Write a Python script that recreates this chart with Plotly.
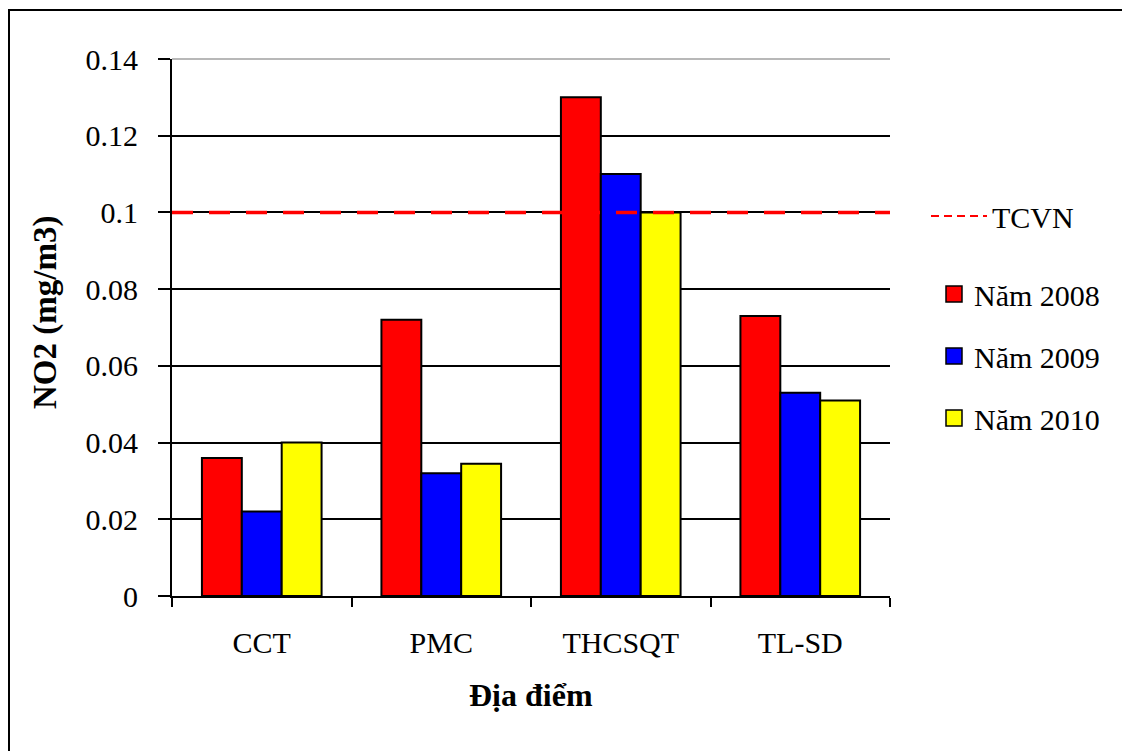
import plotly.graph_objects as go

# NO2 concentrations (mg/m3) by site and year
sites = ["CCT", "PMC", "THCSQT", "TL-SD"]
no2_2008 = [0.036, 0.072, 0.130, 0.073]
no2_2009 = [0.022, 0.032, 0.110, 0.053]
no2_2010 = [0.040, 0.0345, 0.100, 0.051]
tcvn_limit = 0.1

y_ticks = [0, 0.02, 0.04, 0.06, 0.08, 0.1, 0.12, 0.14]
y_tick_text = ["0", "0.02", "0.04", "0.06", "0.08", "0.1", "0.12", "0.14"]

FONT = "Times New Roman, Liberation Serif, serif"
W, H = 1122, 751
L, R, T, B = 172, 232, 59, 155
pw, ph = W - L - R, H - T - B


def px_x(x):
    return (x - L) / pw


def px_y(y):
    return (H - B - y) / ph


fig = go.Figure()

series = [
    ("Năm 2008", no2_2008, "#FF0000"),
    ("Năm 2009", no2_2009, "#0000FF"),
    ("Năm 2010", no2_2010, "#FFFF00"),
]
for name, vals, color in series:
    fig.add_trace(go.Bar(
        x=sites, y=vals, name=name,
        marker=dict(color=color, line=dict(color="black", width=2)),
        showlegend=False,
    ))
    # legend entry drawn as a square marker
    fig.add_trace(go.Scatter(
        x=[None], y=[None], mode="markers", name=name,
        marker=dict(symbol="square", size=16, color=color,
                    line=dict(color="black", width=1.5)),
        legend="legend", legendgroup=name,
    ))

# standard limit line across the full plot width
fig.add_trace(go.Scatter(
    x=[0, 1], y=[tcvn_limit, tcvn_limit], xaxis="x2", mode="lines",
    line=dict(color="#FF0000", width=3.5, dash="21px,16px"),
    showlegend=False, hoverinfo="skip",
))
fig.add_trace(go.Scatter(
    x=[None], y=[None], xaxis="x2", mode="lines", name="TCVN",
    line=dict(color="#FF0000", width=2, dash="8px,5px"),
    legend="legend2",
))

fig.update_layout(
    width=W, height=H,
    margin=dict(l=L, r=R, t=T, b=B, pad=0),
    paper_bgcolor="white", plot_bgcolor="white",
    font=dict(family=FONT, size=30, color="black"),
    barmode="group", bargap=1.5 / 4.5, bargroupgap=0,
    xaxis=dict(
        type="category", showline=True, linecolor="black", linewidth=2,
        ticks="outside", tickson="boundaries", ticklen=9, tickwidth=2,
        tickcolor="black", showgrid=False, ticklabelstandoff=19,
        tickfont=dict(family=FONT, size=30),
    ),
    xaxis2=dict(overlaying="x", range=[0, 1], visible=False),
    yaxis=dict(
        range=[0, 0.14], tickvals=y_ticks, ticktext=y_tick_text,
        showline=True, linecolor="black", linewidth=2,
        ticks="outside", ticklen=12, tickwidth=2, tickcolor="black",
        showgrid=True, gridcolor="black", gridwidth=1.6,
        zeroline=False, ticklabelstandoff=14,
        tickfont=dict(family=FONT, size=30),
    ),
    legend=dict(
        x=px_x(934), y=px_y(268), xanchor="left", yanchor="top",
        traceorder="grouped", tracegroupgap=20,
        font=dict(family=FONT, size=30), bgcolor="rgba(0,0,0,0)",
        itemsizing="trace",
    ),
    legend2=dict(
        x=px_x(926), y=px_y(190), xanchor="left", yanchor="top",
        font=dict(family=FONT, size=30), bgcolor="rgba(0,0,0,0)",
        itemwidth=56,
    ),
    annotations=[
        dict(text="<b>NO2 (mg/m3)</b>", textangle=-90, xref="paper", yref="paper",
             x=px_x(45), y=px_y(313), xanchor="center", yanchor="middle",
             showarrow=False, font=dict(family=FONT, size=33)),
        dict(text="<b>Địa điểm</b>", xref="paper", yref="paper",
             x=px_x(531), y=px_y(695), xanchor="center", yanchor="middle",
             showarrow=False, font=dict(family=FONT, size=32)),
    ],
    shapes=[
        # open frame: top and left edges as thin filled strips
        dict(type="rect", xref="paper", yref="paper",
             x0=px_x(8), x1=px_x(W), y0=px_y(11), y1=px_y(9),
             fillcolor="black", line=dict(width=0), layer="below"),
        dict(type="rect", xref="paper", yref="paper",
             x0=px_x(8), x1=px_x(10), y0=px_y(H), y1=px_y(9),
             fillcolor="black", line=dict(width=0), layer="below"),
        # top edge of plot area
        dict(type="line", xref="paper", yref="paper",
             x0=0, x1=1, y0=1, y1=1,
             line=dict(color="#b8b8b8", width=2), layer="above"),
    ],
)

fig.write_html("out.html", config={"displayModeBar": False})
